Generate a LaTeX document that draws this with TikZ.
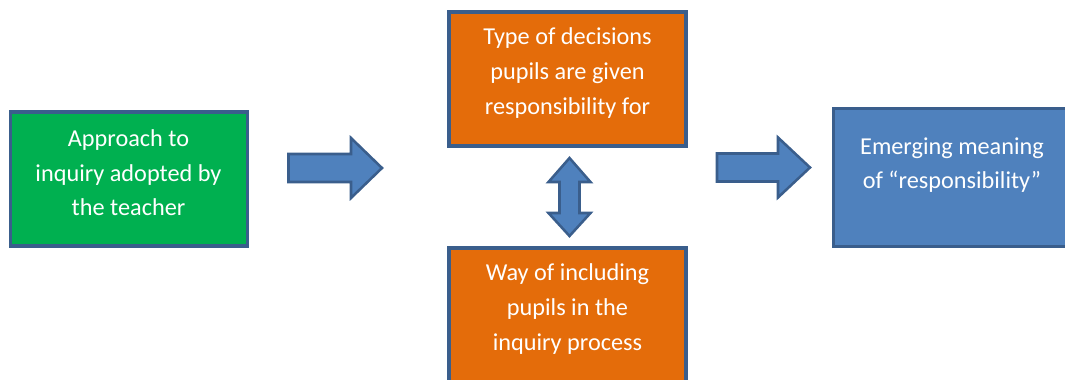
\documentclass[tikz,border=0pt]{standalone}
\usepackage{fontspec}
\setmainfont{Carlito}
\usetikzlibrary{calc,positioning}

\definecolor{frameblue}{HTML}{3A5E8C}
\definecolor{boxgreen}{HTML}{00B050}
\definecolor{boxorange}{HTML}{E46C0A}
\definecolor{boxblue}{HTML}{4F81BD}

\tikzset{
	box/.style={draw=frameblue, line width=2.8pt, minimum width=177.75pt, minimum height=100pt, inner sep=0pt},
	boxtext/.style={text=white, align=center, font=\fontsize{18.2}{25.9}\selectfont, inner sep=0pt},
	blockarrow/.style={draw=frameblue, fill=boxblue, line width=1.9pt, line join=miter}
}

\begin{document}
\begin{tikzpicture}[x=0.75pt, y=-0.75pt]
		\clip (0,0) rectangle (1065,379);
		\useasboundingbox (0,0) rectangle (1065,379);
		
		% Boxes
		\node[box, fill=boxgreen] (G) at (129,179) {};
		\node[box, fill=boxorange] (T) at (567.5,79) {};
		\node[box, fill=boxorange] (W) at (567.5,315) {};
		\node[box, fill=boxblue, minimum height=103.5pt] (E) at (952,177.5) {};
		
		% Texts
		\node[boxtext] (g) at (128.5,173) {Approach to\\inquiry adopted by\\the teacher};
		\node[boxtext] (t) at (567.5,73) {Type of decisions\\pupils are given\\responsibility for};
		\node[boxtext] (w) at (567.5,309) {Way of including\\pupils in the\\inquiry process};
		\node[boxtext] (e) at (952,165) {Emerging meaning\\of “responsibility”};
		
		% Coordinates
		\coordinate (a) at (288.5,168);
		\coordinate (a') at (382,168);
		\coordinate (b) at (717,167.5);
		\coordinate (b') at (810,167.5);
		\coordinate (c) at (569.5,158);
		\coordinate (c') at (569.5,236);
		
		% Arrows
		\draw[blockarrow] ($(a)+(0,-14)$) -- ($(a')+(-31,-14)$) -- ($(a')+(-31,-30)$) -- (a')
			-- ($(a')+(-31,30)$) -- ($(a')+(-31,14)$) -- ($(a)+(0,14)$) -- cycle;
		\draw[blockarrow] ($(b)+(0,-14)$) -- ($(b')+(-32,-14)$) -- ($(b')+(-32,-30)$) -- (b')
			-- ($(b')+(-32,30)$) -- ($(b')+(-32,14)$) -- ($(b)+(0,14)$) -- cycle;
		\draw[blockarrow] (c) -- ($(c)+(21,24)$) -- ($(c)+(10,24)$) -- ($(c')+(10,-23)$)
			-- ($(c')+(21,-23)$) -- (c') -- ($(c')+(-21,-23)$) -- ($(c')+(-10,-23)$)
			-- ($(c)+(-10,24)$) -- ($(c)+(-21,24)$) -- cycle;
	\end{tikzpicture}
\end{document}
